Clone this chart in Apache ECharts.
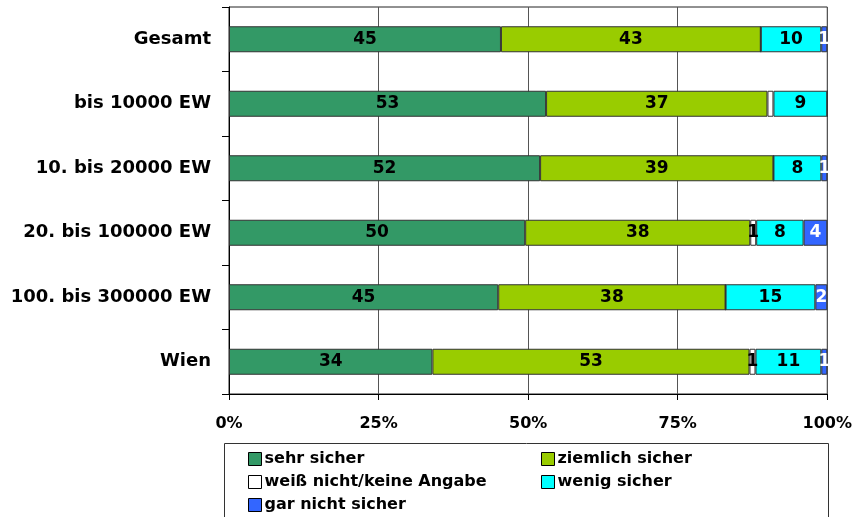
<!DOCTYPE html>
<html>
<head>
<meta charset="utf-8">
<script src="https://cdn.jsdelivr.net/npm/echarts@6/dist/echarts.min.js"></script>
<style>
    html, body { margin: 0; padding: 0; background: #fff; }
    #chart { width: 855px; height: 517px; }
</style>
</head>
<body>
<div id="chart"></div>
<script>
    // categories top to bottom
    let categories = ['Gesamt', 'bis 10000 EW', '10. bis 20000 EW', '20. bis 100000 EW', '100. bis 300000 EW', 'Wien'];
    let x_ticks = [0, 25, 50, 75, 100];

    let sehr_sicher     = [45, 53, 52, 50, 45, 34];
    let ziemlich_sicher = [43, 37, 39, 38, 38, 53];
    let weiss_nicht     = [0, 1, 0, 1, 0, 1];
    let wenig_sicher    = [10, 9, 8, 8, 15, 11];
    let gar_nicht       = [1, 0, 1, 4, 2, 1];

    // label shown in the picture for the small "weiß nicht" segments
    let weiss_labels    = ['', '', '', '1', '', '1'];

    let indicators = [
        {label: 'sehr sicher', color: '#339966', values: sehr_sicher, text: '#000'},
        {label: 'ziemlich sicher', color: '#99cc00', values: ziemlich_sicher, text: '#000'},
        {label: 'weiß nicht/keine Angabe', color: '#ffffff', values: weiss_nicht, text: '#000', labels: weiss_labels},
        {label: 'wenig sicher', color: '#00ffff', values: wenig_sicher, text: '#000'},
        {label: 'gar nicht sicher', color: '#3366ff', values: gar_nicht, text: '#fff'}
    ];

    let font = '"DejaVu Sans", sans-serif';

    // row sums for the 100% stacking
    let sums = categories.map(function(c, i) {
        let s = 0;
        indicators.forEach(function(item) { s += item.values[i]; });
        return s;
    });

    let series = [];
    indicators.forEach(function(item) {
        series.push({
            name: item.label,
            type: 'bar',
            stack: 'total',
            barWidth: 26,
            data: item.values.map(function(v, i) { return 100 * v / sums[i]; }),
            itemStyle: {color: item.color, borderColor: '#333', borderWidth: 1},
            label: {
                show: true,
                position: 'inside',
                color: item.text,
                fontFamily: font,
                fontWeight: 'bold',
                fontSize: 17,
                formatter: function(p) {
                    let raw = item.values[p.dataIndex];
                    if (item.labels) return item.labels[p.dataIndex];
                    return raw > 0 ? String(raw) : '';
                }
            },
            emphasis: {disabled: true}
        });
    });

    let legend_style = {
        orient: 'vertical',
        itemWidth: 13,
        itemHeight: 13,
        itemGap: 5,
        padding: 0,
        icon: 'rect',
        textStyle: {fontFamily: font, fontWeight: 'bold', fontSize: 16, color: '#000', lineHeight: 18, padding: [0, 0, 0, -2]},
        itemStyle: {borderColor: '#000', borderWidth: 1},
        selectedMode: false
    };

    let options = {
        animation: false,
        grid: {
            left: 229, right: 26, top: 7, bottom: 123,
            show: true, borderColor: '#222', borderWidth: 1
        },
        xAxis: {
            type: 'value',
            min: x_ticks[0],
            max: x_ticks[x_ticks.length - 1],
            interval: 25,
            axisLine: {show: true, lineStyle: {color: '#000', width: 1}},
            axisTick: {show: true, length: 6, lineStyle: {color: '#000'}},
            splitLine: {show: true, lineStyle: {color: '#555', width: 1}},
            axisLabel: {
                margin: 22,
                color: '#000',
                fontFamily: font,
                fontWeight: 'bold',
                fontSize: 16,
                formatter: '{value}%'
            }
        },
        yAxis: {
            type: 'category',
            inverse: true,
            data: categories,
            axisLine: {show: true, lineStyle: {color: '#000', width: 1}},
            axisTick: {show: true, length: 7, lineStyle: {color: '#000'}},
            axisLabel: {
                margin: 18,
                color: '#000',
                fontFamily: font,
                fontWeight: 'bold',
                fontSize: 18
            }
        },
        legend: [
            Object.assign({left: 248, top: 450, data: [indicators[0].label, indicators[2].label, indicators[4].label]}, legend_style),
            Object.assign({left: 541, top: 450, data: [indicators[1].label, indicators[3].label]}, legend_style)
        ],
        graphic: [{
            type: 'rect',
            shape: {x: 224.5, y: 443.5, width: 604, height: 100},
            style: {fill: 'none', stroke: '#333', lineWidth: 1},
            silent: true
        }],
        series: series
    };

    echarts.init(document.getElementById('chart')).setOption(options);
</script>
</body>
</html>
